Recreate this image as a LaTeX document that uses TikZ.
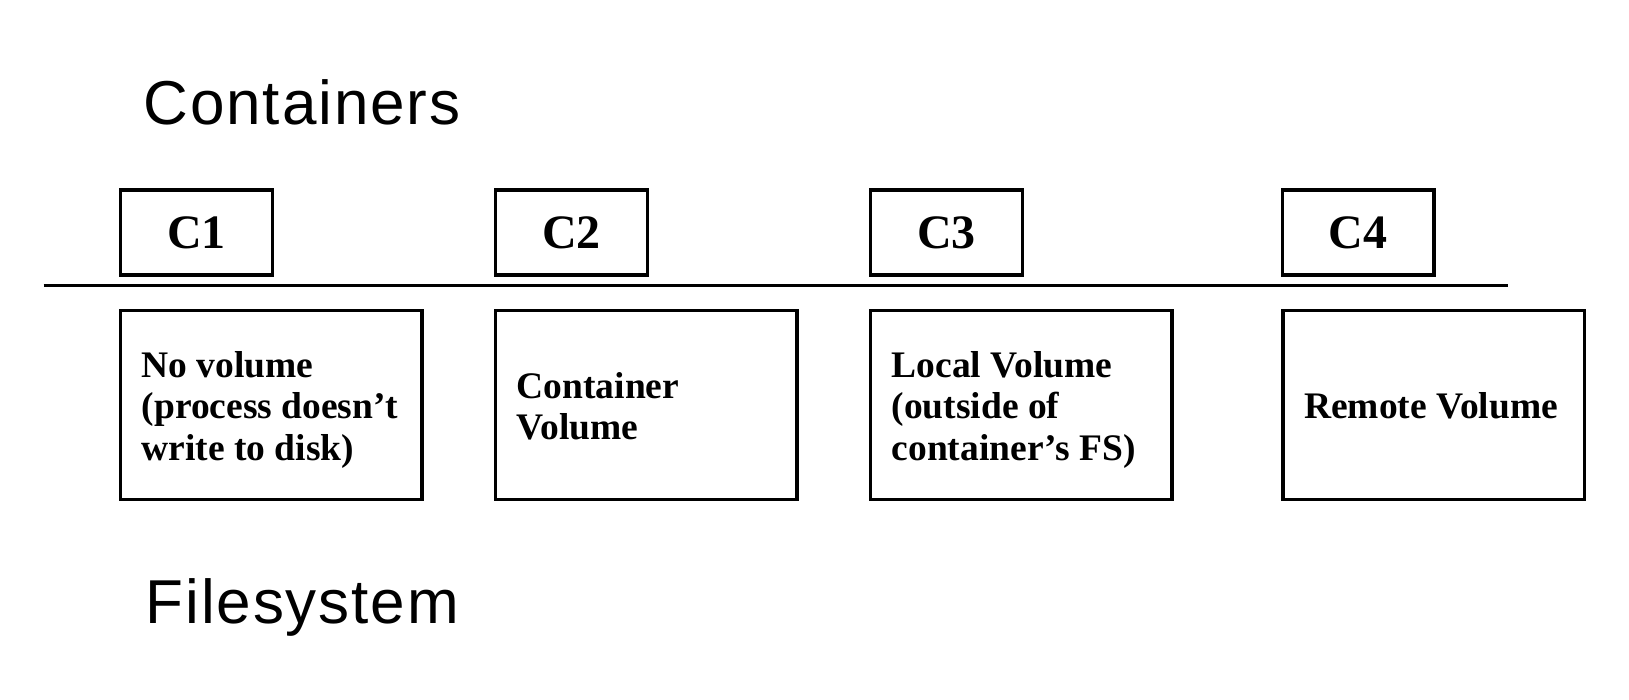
\documentclass[tikz,border=0pt]{standalone}
\usepackage{fontspec}
\setmainfont{Liberation Serif}
\newfontfamily\headfont[LetterSpace=3.0]{Liberation Sans}
\usepackage{tikz}
\usetikzlibrary{positioning}

\begin{document}
\begin{tikzpicture}[x=1pt,y=-1pt,line width=3.5pt,
  cbox/.style={draw,minimum width=151.7pt,minimum height=85pt,inner sep=0pt,font=\fontsize{48}{50}\selectfont\bfseries},
  vbox/.style={draw,minimum width=301.3pt,minimum height=189pt,inner xsep=21pt,inner ysep=0pt,text width=259pt,text height=#1,align=left,
    font=\fontsize{37.5}{41.5}\selectfont\bfseries,execute at begin node={\spaceskip=0.25em\relax}},
  vbox/.default=28pt,
  head/.style={anchor=base west,inner sep=0pt,font=\fontsize{62}{64}\selectfont\headfont}]
\useasboundingbox (0,0) rectangle (1629,699);
\node[head] (top) at (142,124) {Containers};
\node[head] (bottom) at (144,623) {Filesystem};
\foreach \n/\x in {1/196.4,2/571.4,3/946.4,4/1358.3}{\node[cbox] (c\n) at (\x,232.5) {C\n};}
\coordinate (l) at (43.6,285.7);
\coordinate (r) at (1508.4,285.7);
\draw (l) -- (r);
\node[vbox=35pt] (v1) at (271.2,405.2) {No volume\\(process doesn’t\\write to disk)};
\node[vbox] (v2) at (646.2,405.2) {Container\\Volume};
\node[vbox=35pt] (v3) at (1021.2,405.2) {Local Volume\\(outside of\\container’s FS)};
\node[vbox] (v4) at (1433.6,405.2) {Remote Volume};
\end{tikzpicture}
\end{document}
